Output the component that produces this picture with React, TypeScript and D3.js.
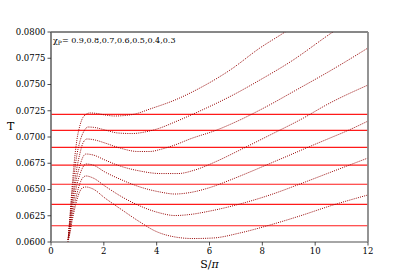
import React from "react";
import * as d3 from "d3";

const chiLabel = "0.9,0.8,0.7,0.6,0.5,0.4,0.3";
const xTicks = [0, 2, 4, 6, 8, 10, 12];
const yTicks = [0.06, 0.0625, 0.065, 0.0675, 0.07, 0.0725, 0.075, 0.0775, 0.08];

const hLines = [0.07216, 0.07064, 0.06902, 0.06733, 0.0655, 0.06359, 0.06155];

const curveA: [number, number][] = [
  [0.64, 0.06], [0.72, 0.06257], [0.79, 0.06495], [0.87, 0.06733], [0.98, 0.06971],
  [1.1, 0.07114], [1.25, 0.072], [1.48, 0.07229], [1.74, 0.07224], [2.04, 0.0721],
  [2.42, 0.072], [2.8, 0.07205], [3.18, 0.07219], [3.75, 0.07267], [4.69, 0.07352],
  [5.64, 0.07467], [6.78, 0.07638], [7.91, 0.07848], [8.86, 0.08], [9.42, 0.08095],
];
const curveB: [number, number][] = [
  [0.64, 0.06], [0.72, 0.06229], [0.79, 0.06438], [0.87, 0.06629], [0.98, 0.06829],
  [1.1, 0.06962], [1.25, 0.07057], [1.4, 0.07095], [1.67, 0.0709], [2.04, 0.07067],
  [2.54, 0.07038], [3.07, 0.07033], [3.56, 0.07048], [4.13, 0.07086], [4.69, 0.07143],
  [5.64, 0.07248], [6.89, 0.074], [7.91, 0.07543], [9.05, 0.07714], [10.67, 0.08], [11.13, 0.08076],
];
const curveC: [number, number][] = [
  [0.64, 0.06], [0.72, 0.062], [0.79, 0.06371], [0.87, 0.06524], [0.98, 0.06705],
  [1.1, 0.06848], [1.21, 0.06943], [1.36, 0.06981], [1.67, 0.06971], [2.04, 0.06943],
  [2.61, 0.06895], [3.29, 0.06862], [3.75, 0.06862], [4.13, 0.06881], [4.69, 0.06924],
  [5.26, 0.06981], [6.28, 0.07067], [7.15, 0.07162], [7.91, 0.07257], [9.42, 0.07467],
  [10.56, 0.07629], [12.0, 0.07848],
];
const curveD: [number, number][] = [
  [0.64, 0.06], [0.72, 0.06171], [0.79, 0.06324], [0.87, 0.06467], [0.98, 0.06619],
  [1.1, 0.06733], [1.21, 0.0681], [1.32, 0.06838], [1.59, 0.06829], [2.04, 0.06781],
  [2.61, 0.06724], [3.37, 0.06676], [4.13, 0.06652], [4.81, 0.06652], [5.45, 0.06686],
  [6.21, 0.06762], [7.15, 0.06876], [8.29, 0.07019], [9.42, 0.07162], [10.56, 0.07324],
  [12.0, 0.07495],
];
const curveE: [number, number][] = [
  [0.64, 0.06], [0.72, 0.06143], [0.79, 0.06276], [0.87, 0.064], [0.98, 0.06543],
  [1.1, 0.06648], [1.21, 0.06714], [1.32, 0.06743], [1.59, 0.06733], [2.04, 0.06667],
  [2.69, 0.0659], [3.37, 0.06524], [4.13, 0.06476], [4.69, 0.06457], [5.26, 0.06471],
  [6.02, 0.06519], [6.78, 0.0659], [7.53, 0.06667], [8.29, 0.06748], [9.05, 0.06829],
  [9.8, 0.0691], [10.56, 0.0699], [11.32, 0.07071], [12.0, 0.07152],
];
const curveF: [number, number][] = [
  [0.64, 0.06], [0.72, 0.06114], [0.79, 0.06229], [0.87, 0.06333], [0.98, 0.06457],
  [1.1, 0.06562], [1.21, 0.06614], [1.32, 0.06629], [1.59, 0.0661], [2.04, 0.06533],
  [2.69, 0.06429], [3.37, 0.06343], [4.13, 0.06276], [4.69, 0.06252], [5.26, 0.06262],
  [6.02, 0.06295], [7.15, 0.06362], [8.29, 0.06448], [9.42, 0.06552], [10.56, 0.06662],
  [12.0, 0.068],
];
const curveG: [number, number][] = [
  [0.64, 0.06], [0.72, 0.06086], [0.79, 0.0619], [0.87, 0.06286], [0.98, 0.064],
  [1.1, 0.06486], [1.21, 0.06519], [1.32, 0.06524], [1.59, 0.06505], [2.04, 0.06419],
  [2.69, 0.06305], [3.37, 0.0619], [3.94, 0.06105], [4.69, 0.06048], [5.37, 0.06033],
  [6.13, 0.06038], [7.15, 0.06086], [8.29, 0.06162], [9.42, 0.06248], [10.56, 0.06343],
  [12.0, 0.06448],
];
const curves = [curveA, curveB, curveC, curveD, curveE, curveF, curveG];

const W = 409, H = 272;
const L = 51, R = 368, T = 32, B = 242;
const FONT = "'DejaVu Serif', serif";

export default function App() {
  const x = d3.scaleLinear().domain([0, 12]).range([L, R]);
  const y = d3.scaleLinear().domain([0.06, 0.08]).range([B, T]);
  const line = d3.line<[number, number]>()
    .x((d) => x(d[0]))
    .y((d) => y(d[1]))
    .curve(d3.curveMonotoneX);

  return (
    <svg width={W} height={H} style={{ position: "absolute", left: 0, top: 0, background: "#fff" }}>
      <defs>
        <clipPath id="plot">
          <rect x={L} y={T} width={R - L} height={B - T} />
        </clipPath>
      </defs>
      <g clipPath="url(#plot)">
        {hLines.map((v, i) => (
          <line key={i} x1={L} x2={R} y1={y(v)} y2={y(v)} stroke="#ff1a1a" strokeWidth={1.2} />
        ))}
        {curves.map((c, i) => (
          <path key={i} d={line(c) || ""} fill="none" stroke="#960000" strokeWidth={1}
            strokeDasharray="1 1.2" />
        ))}
      </g>
      {/* spines */}
      <line x1={L} x2={R} y1={T} y2={T} stroke="#111" strokeWidth={1} />
      <line x1={L} x2={L} y1={T} y2={B} stroke="#666" strokeWidth={1.6} />
      <line x1={R} x2={R} y1={T} y2={B} stroke="#888" strokeWidth={1.8} />
      <line x1={L} x2={R} y1={B} y2={B} stroke="#888" strokeWidth={1.6} />
      {/* y ticks */}
      {yTicks.map((t, i) => (
        <g key={i}>
          <line x1={L - 3.5} x2={L} y1={y(t)} y2={y(t)} stroke="#222" strokeWidth={0.8} />
          <text x={L - 5.5} y={y(t)} dy="0.35em" textAnchor="end" fontFamily={FONT} fontSize={8.5} fill="#000">
            {d3.format(".4f")(t)}
          </text>
        </g>
      ))}
      {/* x ticks */}
      {xTicks.map((t, i) => (
        <g key={i}>
          <line x1={x(t)} x2={x(t)} y1={B} y2={B + 3.5} stroke="#222" strokeWidth={0.8} />
          <text x={x(t)} y={253.5} textAnchor="middle" fontFamily={FONT} fontSize={8.5} fill="#000">
            {t}
          </text>
        </g>
      ))}
      <text x={7} y={129.5} fontFamily={FONT} fontSize={11} fill="#000">T</text>
      <text x={(L + R) / 2} y={268} textAnchor="middle" fontFamily={FONT} fontSize={11} fill="#000">
        S/<tspan fontStyle="italic">π</tspan>
      </text>
      <text x={53} y={43} fontFamily={FONT} fontSize={8} fill="#000">
        χ<tspan fontSize={6} dy={2}>P</tspan><tspan dy={-2}>= {chiLabel}</tspan>
      </text>
    </svg>
  );
}
